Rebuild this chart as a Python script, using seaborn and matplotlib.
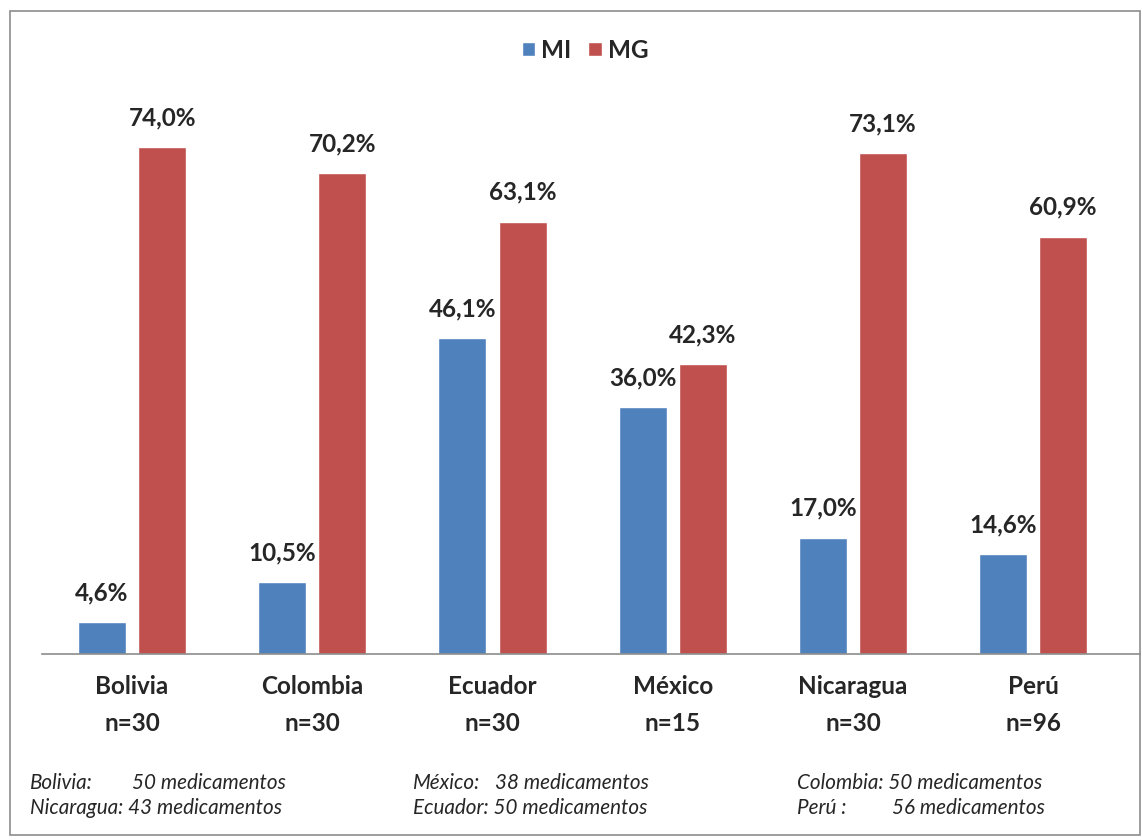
import matplotlib
matplotlib.use('Agg')
import matplotlib.pyplot as plt
import seaborn as sns
import pandas as pd
from matplotlib.patches import Rectangle
from matplotlib.font_manager import FontProperties

paises = ['Bolivia', 'Colombia', 'Ecuador', 'México', 'Nicaragua', 'Perú']
n_muestra = [30, 30, 30, 15, 30, 96]
mi = [4.6, 10.5, 46.1, 36.0, 17.0, 14.6]
mg = [74.0, 70.2, 63.1, 42.3, 73.1, 60.9]

df = pd.DataFrame({
    'pais': paises * 2,
    'tipo': ['MI'] * len(paises) + ['MG'] * len(paises),
    'valor': mi + mg,
})

sns.set_style('white')
plt.rcParams['font.family'] = ['Lato', 'DejaVu Sans']

W, H = 1142, 840
fig = plt.figure(figsize=(W / 100, H / 100), dpi=100)
# área del gráfico: base en y=654, desde x=42 hasta x=1140
ax = fig.add_axes([42 / W, 1 - 654 / H, 1098 / W, 574 / H])

sns.barplot(data=df, x='pais', y='valor', hue='tipo', order=paises,
            hue_order=['MI', 'MG'], palette=['#4F81BD', '#C0504D'],
            width=0.667, gap=0.2, ax=ax, saturation=1, errorbar=None)

paso = 180.2
ax.set_ylim(0, 83.8)
ax.set_xlim(-0.5, -0.5 + 1098 / paso)
ax.set_yticks([])
ax.set_xlabel('')
ax.set_ylabel('')
for s in ['top', 'right', 'left']:
    ax.spines[s].set_visible(False)
ax.spines['bottom'].set_color('#8c8c8c')
ax.spines['bottom'].set_linewidth(1.2)

ax.set_xticks(range(len(paises)))
ax.set_xticklabels([f'{p}\nn={n}' for p, n in zip(paises, n_muestra)],
                   fontsize=17.5, fontweight='bold', linespacing=1.75)
ax.tick_params(axis='x', length=0, pad=15)

for cont in ax.containers:
    for bar in cont:
        h = bar.get_height()
        ax.annotate(f'{h:.1f}%'.replace('.', ','),
                    (bar.get_x() + bar.get_width() / 2, h),
                    xytext=(0, 13), textcoords='offset points',
                    ha='center', va='bottom', fontsize=17.5, fontweight='bold',
                    annotation_clip=False)

fp = FontProperties(family=['Lato', 'DejaVu Sans'], weight='bold', size=17.5)
leg = ax.legend(loc='center', bbox_to_anchor=((585 - 42) / 1098, (654 - 50) / 574),
                ncol=2, frameon=False, prop=fp,
                handlelength=0.55, handleheight=0.55, handletextpad=0.25,
                columnspacing=0.7)

fig.patches.append(Rectangle((10 / W, 5 / H), 1130 / W, 824 / H,
                             transform=fig.transFigure, fill=False,
                             edgecolor='#8c8c8c', linewidth=1.2))

notas = [
    (30, 783, 'Bolivia:'), (132, 783, '50 medicamentos'),
    (30, 808, 'Nicaragua: 43 medicamentos'),
    (413, 783, 'México:'), (495, 783, '38 medicamentos'),
    (413, 808, 'Ecuador: 50 medicamentos'),
    (797, 783, 'Colombia: 50 medicamentos'),
    (797, 808, 'Perú :'), (892, 808, '56 medicamentos'),
]
for x, y, t in notas:
    fig.text(x / W, 1 - y / H, t, fontsize=14.9, style='italic',
             ha='left', va='center')

fig.savefig('out.png', dpi=100)
